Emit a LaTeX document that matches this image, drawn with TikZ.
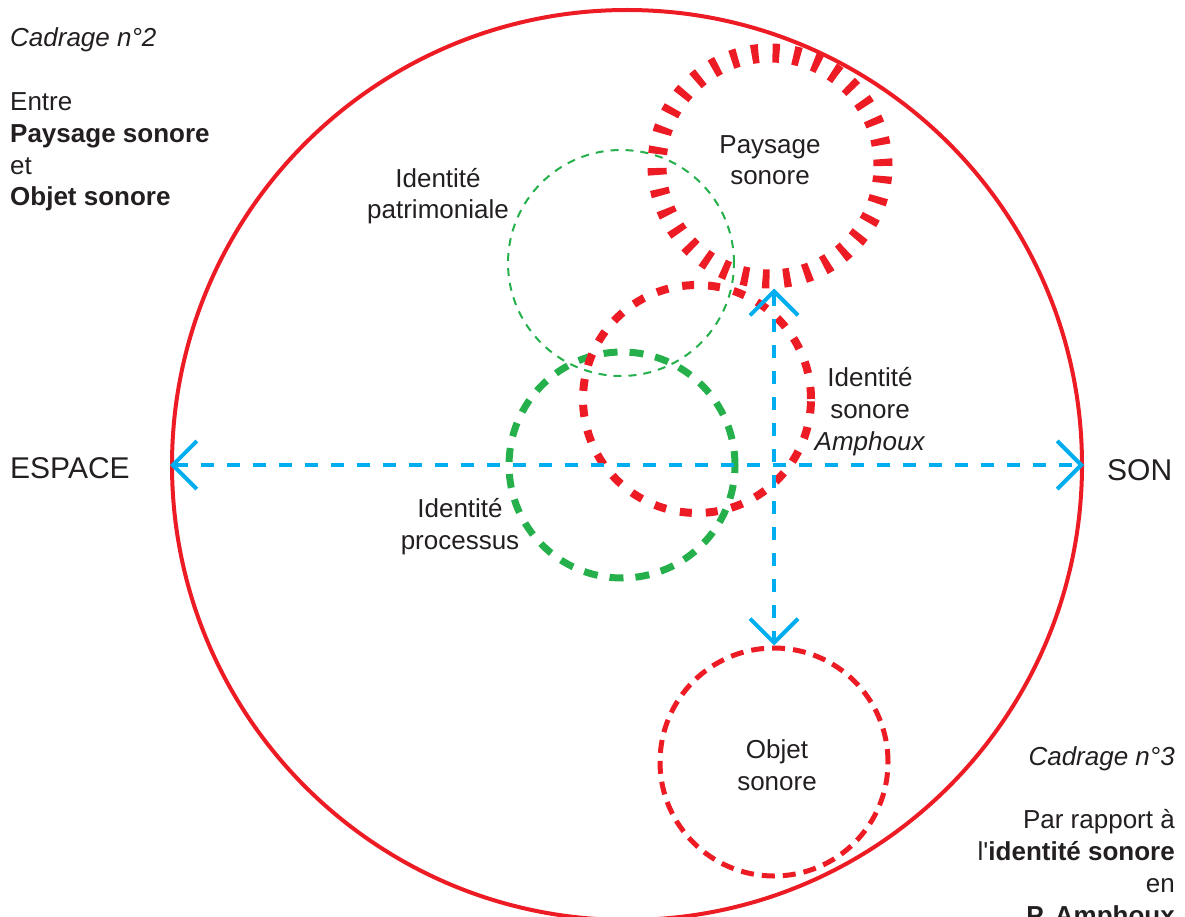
\documentclass[tikz,border=0pt]{standalone}
\usepackage{fontspec}
\setmainfont{Liberation Sans}
\usepackage{xcolor}
\usepackage{tikz}
\usetikzlibrary{arrows.meta}
\usetikzlibrary{calc}
\usetikzlibrary{positioning}

\definecolor{rouge}{RGB}{237,28,36}
\definecolor{verte}{RGB}{38,176,76}
\definecolor{bleu}{RGB}{0,174,239}
\definecolor{encre}{RGB}{35,31,32}

\begin{document}
\begin{tikzpicture}[-,x=1pt,y=-1pt,
    every node/.style={inner sep=0pt,text=encre,font=\fontsize{26}{31.7}\selectfont}]
        \tikzstyle{rond}=[draw, circle, inner sep=0pt]
        \tikzstyle{cadre}=[rond, rouge, line width=4pt]
        \tikzstyle{paysage}=[rond, rouge, line width=19pt, dash pattern=on 7pt off 14pt]
        \tikzstyle{patri}=[rond, verte, line width=2pt, dash pattern=on 8pt off 7pt]
        \tikzstyle{amphoux}=[rond, rouge, line width=8pt, dash pattern=on 12pt off 14pt]
        \tikzstyle{processus}=[rond, verte, line width=7pt, dash pattern=on 14pt off 12pt]
        \tikzstyle{objet}=[rond, rouge, line width=5pt, dash pattern=on 13pt off 8pt]
        \tikzstyle{axe}=[bleu, line width=4pt, dash pattern=on 13pt off 13pt,
            {Straight Barb[length=24pt,width=48pt]}-{Straight Barb[length=24pt,width=48pt]}]
        \tikzstyle{gros}=[font=\fontsize{30}{36}\selectfont]

        \useasboundingbox (0,0) rectangle (1185,917);

        \node[cadre, minimum size=910] (cadre) at (627,465) {};
        \node[patri, minimum size=226] (patri) at (621,263) {};
        \node[paysage, minimum size=226] (paysage) at (770,166) {};
        \node[processus, minimum size=226] (processus) at (622,465) {};
        \node[amphoux, minimum size=228] (amphoux) at (697,399) {};
        \node[objet, minimum size=228] (objet) at (774,762) {};

        \draw[axe] (cadre.west) -- (cadre.east);
        \draw[axe] (objet.north |- paysage.south) -- (objet.north);

        \node[anchor=base, align=center] (lpaysage) at (770,185) {Paysage\\sonore};
        \node[anchor=base, align=center] (lpatri) at (438,219) {Identit\'e\\patrimoniale};
        \node[anchor=base, align=center] (lamphoux) at (870,450) {Identit\'e\\sonore\\\textit{Amphoux}};
        \node[anchor=base, align=center] (lprocessus) at (460,549) {Identit\'e\\processus};
        \node[anchor=base, align=center] (lobjet) at (777,790) {Objet\\sonore};

        \node[gros, anchor=base west] (espace) at (10,478) {ESPACE};
        \node[gros, anchor=base west] (son) at (1107,480) {SON};

        \node[anchor=base west] (cadrage2) at (10,47) {\itshape Cadrage n°2};
        \node[anchor=base west, align=left] (entre) at (10,206)
            {Entre\\\textbf{Paysage sonore}\\et\\\textbf{Objet sonore}};
        \node[anchor=base east] (cadrage3) at (1175,765) {\itshape Cadrage n°3};
        \node[anchor=base east, align=right] (rapport) at (1175,924)
            {Par rapport \`a\\l\textquotesingle\textbf{identit\'e sonore}\\en\\\textbf{P. Amphoux}};
\end{tikzpicture}
\end{document}
